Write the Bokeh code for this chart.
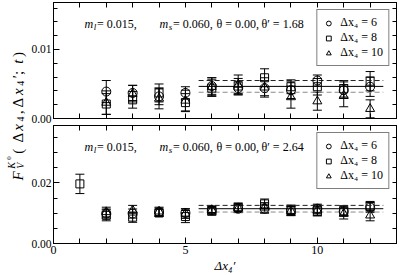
from math import pi
import numpy as np
from bokeh.plotting import figure
from bokeh.models import (ColumnDataSource, Whisker, TeeHead, Label, Legend, LegendItem,
                          FixedTicker, PrintfTickFormatter, LinearAxis, Range1d)
from bokeh.layouts import row, column
from bokeh.embed import file_html
from bokeh.resources import INLINE

# ---------------- data ----------------
dxp = [2, 3, 4, 5, 6, 7, 8, 9, 10, 11, 12]
dxp_sq_bot = [1, 2, 3, 4, 5, 6, 7, 8, 9, 10, 11, 12]

# theta' = 1.68 (top panel)
top_dx6 = [0.0039, 0.0037, 0.0032, 0.0037, 0.0047, 0.0044, 0.0044, 0.0041, 0.0055, 0.0041, 0.0046]
top_dx6_err = [0.0016, 0.0011, 0.0012, 0.0009, 0.0012, 0.0010, 0.0011, 0.0012, 0.0008, 0.0012, 0.0014]
top_dx8 = [0.0021, 0.0027, 0.0037, 0.0023, 0.0044, 0.0047, 0.0059, 0.0046, 0.0046, 0.0043, 0.0054]
top_dx8_err = [0.0015, 0.0012, 0.0013, 0.0013, 0.0012, 0.0011, 0.0013, 0.0010, 0.0012, 0.0012, 0.0014]
top_dx10 = [0.0023, 0.0036, 0.0029, 0.0026, 0.0046, 0.0049, 0.0045, 0.0031, 0.0025, 0.0033, 0.0014]
top_dx10_err = [0.0017, 0.0012, 0.0015, 0.0015, 0.0013, 0.0014, 0.0014, 0.0016, 0.0013, 0.0016, 0.0013]

# theta' = 2.64 (bottom panel)
bot_dx6 = [0.0099, 0.0099, 0.0104, 0.0101, 0.0110, 0.0115, 0.0115, 0.0109, 0.0115, 0.0106, 0.0119]
bot_dx6_err = [0.0015, 0.0015, 0.0013, 0.0013, 0.0012, 0.0013, 0.0015, 0.0013, 0.0015, 0.0015, 0.0016]
bot_dx8 = [0.0197, 0.0093, 0.0087, 0.0101, 0.0089, 0.0107, 0.0119, 0.0131, 0.0110, 0.0107, 0.0108, 0.0123]
bot_dx8_err = [0.0032, 0.0018, 0.0017, 0.0012, 0.0020, 0.0013, 0.0015, 0.0016, 0.0017, 0.0016, 0.0017, 0.0016]
bot_dx10 = [0.0104, 0.0110, 0.0106, 0.0099, 0.0111, 0.0117, 0.0119, 0.0108, 0.0110, 0.0099, 0.0093]
bot_dx10_err = [0.0016, 0.0016, 0.0014, 0.0016, 0.0013, 0.0014, 0.0016, 0.0016, 0.0017, 0.0018, 0.0018]

# plateau fits: central, upper, lower
top_fit = [0.00465, 0.0055, 0.0038]
bot_fit = [0.0115, 0.0126, 0.0104]
fit_range = [5.5, 12.5]

x_major = [0, 5, 10]
x_minor = [0, 1, 2, 3, 4, 5, 6, 7, 8, 9, 10, 11, 12, 13]
top_y_major = [0.0, 0.01]
top_y_minor = [0.0, 0.002, 0.004, 0.006, 0.008, 0.01, 0.012, 0.014, 0.016]
bot_y_major = [0.0, 0.02]
bot_y_minor = [0.0, 0.005, 0.01, 0.015, 0.02, 0.025, 0.03, 0.035]

top_params = ["0.015", "0.060", "0.00", "1.68"]
bot_params = ["0.015", "0.060", "0.00", "2.64"]
legend_labels = ["Δx₄ = 6", "Δx₄ = 8", "Δx₄ = 10"]
x_title = "Δx₄′"

FONT = "Liberation Serif"
EM = {' ': 0.25, '=': 0.564, '.': 0.25, ',': 0.25, '(': 0.333, ')': 0.333, ';': 0.278,
      'Δ': 0.612, 'θ': 0.5, '′': 0.275, 'm': 0.722, 'l': 0.278, 's': 0.389, 'x': 0.444,
      't': 0.278, 'F': 0.611, 'V': 0.611, 'K': 0.667}


def width(s, size):
    return sum(EM.get(c, 0.5) for c in s) * size


def put(fig, segs, x, y, rotate=False, gap=0.0):
    pos = 0.0
    for text, size, style, shift, adv in segs:
        kw = dict(text=text, text_font=FONT, text_font_size=f"{size}px", text_font_style=style,
                  text_color="black", text_align="left", text_baseline="alphabetic",
                  x_units="screen", y_units="screen")
        if rotate:
            lab = Label(x=x - shift, y=y + pos, angle=pi / 2, **kw)
        else:
            lab = Label(x=x + pos, y=y + shift, **kw)
        fig.add_layout(lab)
        if adv:
            pos += width(text, size) + gap


def tick_axis(ax, major_in=6, minor_in=4):
    ax.axis_line_color = "black"
    ax.major_tick_line_color = "black"
    ax.minor_tick_line_color = "black"
    ax.major_tick_in = major_in
    ax.major_tick_out = 0
    ax.minor_tick_in = minor_in
    ax.minor_tick_out = 0


def label_axis(ax, standoff, size="12px"):
    ax.major_label_text_font = FONT
    ax.major_label_text_font_size = size
    ax.major_label_text_color = "black"
    ax.major_label_standoff = standoff


STRIP_W = 28
MAIN_W = 399 - STRIP_W


def panel(height, min_top, min_bottom, yr, ymaj, ymin, series, fit, params, show_xlabels, fh):
    p = figure(width=MAIN_W, height=height, x_range=Range1d(0, 13), y_range=Range1d(*yr),
               toolbar_location=None, output_backend="svg",
               min_border_left=51 - STRIP_W, min_border_right=3, min_border_top=min_top,
               min_border_bottom=min_bottom, x_axis_location=None, y_axis_location=None)
    p.grid.visible = False
    p.outline_line_color = "black"
    p.background_fill_color = "white"
    p.border_fill_color = "white"

    if show_xlabels:
        xb = LinearAxis(ticker=FixedTicker(ticks=x_major, minor_ticks=x_minor),
                        formatter=PrintfTickFormatter(format="%d"))
        tick_axis(xb, 6, 5)
        label_axis(xb, 2)
        xb.axis_label = x_title
        xb.axis_label_text_font = FONT
        xb.axis_label_text_font_size = "13px"
        xb.axis_label_text_font_style = "italic"
        xb.axis_label_text_color = "black"
        xb.axis_label_standoff = 1
    else:
        xb = LinearAxis(ticker=FixedTicker(ticks=[], minor_ticks=x_minor))
        tick_axis(xb, 6, 5)
    p.add_layout(xb, "below")
    xa = LinearAxis(ticker=FixedTicker(ticks=[], minor_ticks=x_minor))
    tick_axis(xa, 6, 5)
    p.add_layout(xa, "above")
    yl = LinearAxis(ticker=FixedTicker(ticks=ymaj, minor_ticks=ymin),
                    formatter=PrintfTickFormatter(format="%.2f"))
    tick_axis(yl, 6, 4)
    label_axis(yl, 2, "11.5px")
    p.add_layout(yl, "left")
    yr_ax = LinearAxis(ticker=FixedTicker(ticks=[], minor_ticks=ymin))
    tick_axis(yr_ax, 6, 4)
    p.add_layout(yr_ax, "right")

    xs0, xs1 = fit_range
    p.segment(x0=[xs0], x1=[xs1], y0=[fit[0]], y1=[fit[0]], line_color="black", line_width=1)
    p.segment(x0=[xs0], x1=[xs1], y0=[fit[1]], y1=[fit[1]], line_color="#222222", line_width=1,
              line_dash="5 3")
    p.segment(x0=[xs0], x1=[xs1], y0=[fit[2]], y1=[fit[2]], line_color="#8a8a8a", line_width=1,
              line_dash="5 3")

    items = []
    for (xs, ys, es, marker, size), lab in zip(series, legend_labels):
        ys = np.array(ys)
        es = np.array(es)
        src = ColumnDataSource(dict(x=xs, y=ys, up=ys + es, lo=ys - es))
        w = Whisker(source=src, base="x", upper="up", lower="lo", line_color="black", line_width=1,
                    upper_head=TeeHead(size=9, line_color="black", line_width=1),
                    lower_head=TeeHead(size=9, line_color="black", line_width=1))
        p.add_layout(w)
        r = p.scatter("x", "y", source=src, marker=marker, size=size, fill_color=None,
                      line_color="black", line_width=1)
        items.append(LegendItem(label=lab, renderers=[r]))

    leg = Legend(items=items, location="top_right", margin=7, padding=5, spacing=0,
                 glyph_width=12, glyph_height=14, label_height=14, label_standoff=6,
                 label_text_font=FONT, label_text_font_size="12px", label_text_color="black",
                 border_line_color="black", border_line_width=1, background_fill_color="white",
                 background_fill_alpha=1.0)
    p.add_layout(leg)

    ty = fh - 21
    put(p, [("m", 12, "italic", 0, True), ("l", 9, "italic", -3, True),
            (" = " + params[0] + ",", 12, "normal", 0, True)], 31, ty, gap=0.7)
    put(p, [("m", 12, "italic", 0, True), ("s", 9, "italic", -3, True),
            (" = " + params[1] + ",", 12, "normal", 0, True)], 106, ty, gap=0.7)
    put(p, [("θ = " + params[2] + ",", 12, "normal", 0, True)], 163, ty)
    put(p, [("θ′ = " + params[3], 12, "normal", 0, True)], 208, ty)
    return p


top = panel(125, 2, 7, (0, 0.0168), top_y_major, top_y_minor,
            [(dxp, top_dx6, top_dx6_err, "circle", 9),
             (dxp, top_dx8, top_dx8_err, "square", 8),
             (dxp, top_dx10, top_dx10_err, "triangle", 9)],
            top_fit, top_params, False, 116)
bot = panel(150, 0, 32, (0, 0.039), bot_y_major, bot_y_minor,
            [(dxp, bot_dx6, bot_dx6_err, "circle", 9),
             (dxp_sq_bot, bot_dx8, bot_dx8_err, "square", 8),
             (dxp, bot_dx10, bot_dx10_err, "triangle", 9)],
            bot_fit, bot_params, True, 118)

# y-axis title strip spanning both panels
lf = figure(width=STRIP_W, height=275, x_range=Range1d(0, 1), y_range=Range1d(0, 1),
            toolbar_location=None, output_backend="svg", min_border=0,
            x_axis_location=None, y_axis_location=None)
lf.grid.visible = False
lf.outline_line_color = None
lf.background_fill_color = "white"
lf.border_fill_color = "white"
put(lf, [("F", 15, "italic", 0, True), ("V", 10, "italic", -3, False),
         ("K", 10, "italic", 6, True), ("0", 7, "normal", 9, True),
         (" (", 15, "normal", 0, True), ("Δ", 15, "normal", 0, True),
         ("x", 15, "italic", 0, True), ("4", 10, "normal", -3, True),
         (", Δ", 15, "normal", 0, True), ("x", 15, "italic", 0, True),
         ("4", 10, "normal", -3, True), ("′; ", 15, "normal", 0, True),
         ("t", 15, "italic", 0, True), (")", 15, "normal", 0, True)],
    17, 95, rotate=True, gap=2.5)

layout = row(lf, column(top, bot))
open("out.html", "w").write(file_html(layout, INLINE))
